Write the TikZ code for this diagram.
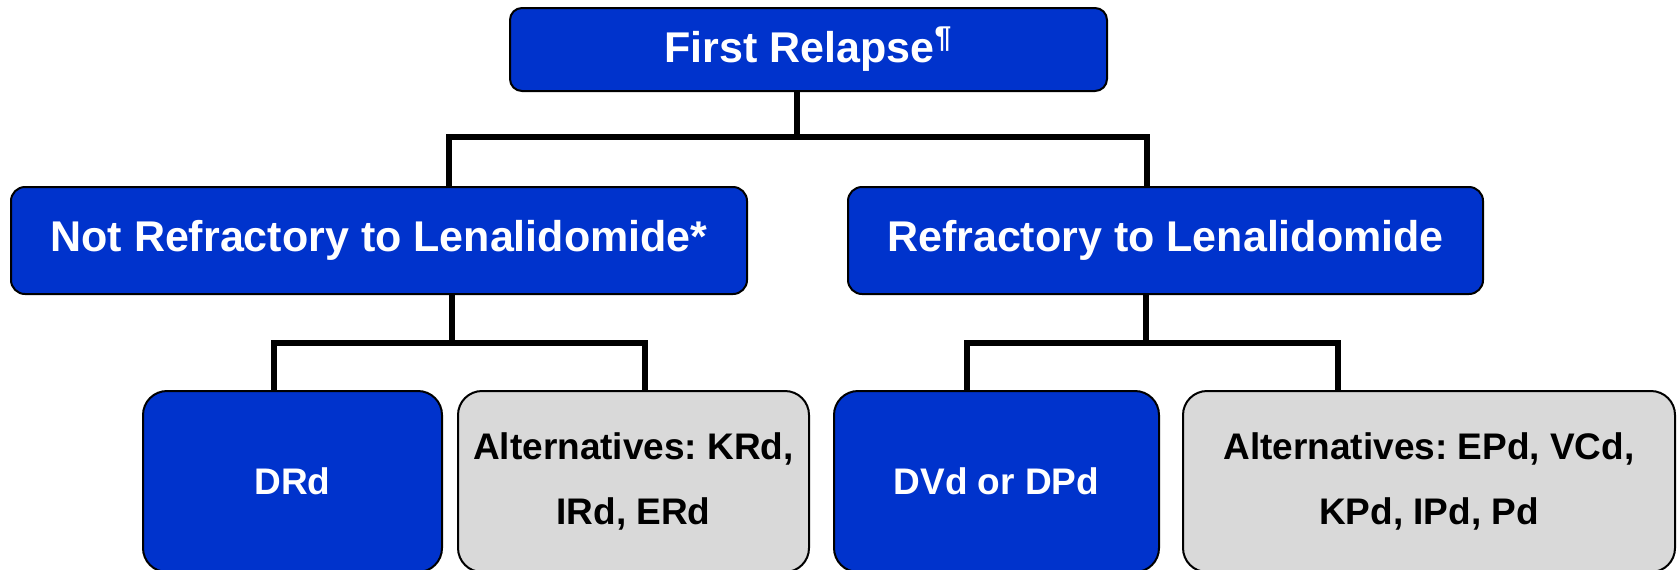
\documentclass[tikz,border=0pt]{standalone}
\usepackage{fontspec}
\setmainfont{Liberation Sans}
\usepackage{tikz}
\frenchspacing

\definecolor{relblue}{RGB}{0,51,204}
\definecolor{altgray}{RGB}{217,217,217}

\begin{document}
\begin{tikzpicture}[
    x=0.5pt, y=-0.5pt,
    every node/.style={draw, line width=1pt, rectangle, align=center, inner sep=0pt},
    blue/.style={fill=relblue, text=white},
    gray/.style={fill=altgray, text=black},
    headbox/.style={rounded corners=6pt, minimum height=41.5pt, font=\fontsize{21.5}{26}\bfseries\selectfont},
    midbox/.style={rounded corners=7pt, minimum height=53.5pt, font=\fontsize{21.5}{26}\bfseries\selectfont},
    leafbox/.style={rounded corners=12pt, minimum height=90.5pt, font=\fontsize{18.5}{32.5}\bfseries\selectfont},
    link/.style={line width=2.8pt}
    ]
    \useasboundingbox (0,0) rectangle (1679,569);

    \node (first) [headbox, blue, minimum width=298.5pt] at (808.5,49.5) {First Relapse\textsuperscript{¶}};

    \node (notref) [midbox, blue, minimum width=368pt] at (379,240.5) {Not Refractory to Lenalidomide*};
    \node (ref) [midbox, blue, minimum width=317.5pt] at (1165.5,240.5) {Refractory to Lenalidomide};

    \node (drd) [leafbox, blue, minimum width=149.5pt] at (292.5,481.5) {DRd};
    \node (altrd) [leafbox, gray, minimum width=175.5pt] at (633.5,481.5) {Alternatives: KRd,\\IRd, ERd};
    \node (dvd) [leafbox, blue, minimum width=162.5pt] at (996.5,481.5) {DVd or DPd};
    \node (altpd) [leafbox, gray, minimum width=246pt] at (1429,481.5) {Alternatives: EPd, VCd,\\KPd, IPd, Pd};

    % bus junctions
    \coordinate (j0) at (797,137);
    \coordinate (j0l) at (449,137);
    \coordinate (j0r) at (1147,137);
    \coordinate (j1) at (452,343);
    \coordinate (j1l) at (274,343);
    \coordinate (j1r) at (645,343);
    \coordinate (j2) at (1146,343);
    \coordinate (j2l) at (967,343);
    \coordinate (j2r) at (1338,343);

    \draw[link] (first.south -| j0) -- (j0);
    \draw[link] (notref.north -| j0l) -- (j0l) -- (j0r) -- (ref.north -| j0r);

    \draw[link] (notref.south -| j1) -- (j1);
    \draw[link] (drd.north -| j1l) -- (j1l) -- (j1r) -- (altrd.north -| j1r);

    \draw[link] (ref.south -| j2) -- (j2);
    \draw[link] (dvd.north -| j2l) -- (j2l) -- (j2r) -- (altpd.north -| j2r);

\end{tikzpicture}
\end{document}
